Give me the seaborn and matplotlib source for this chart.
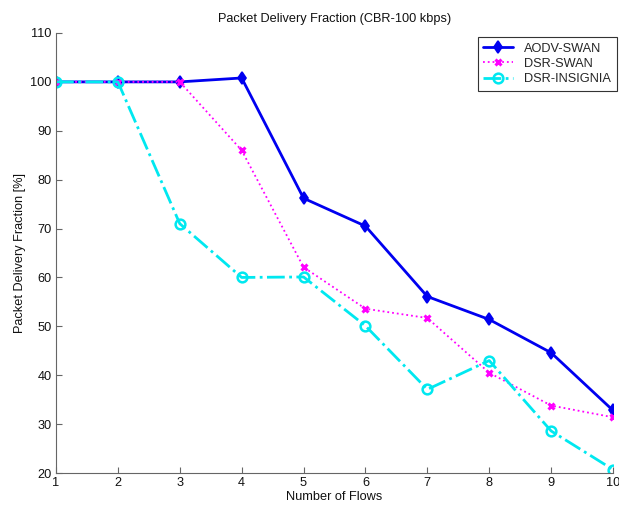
import matplotlib
matplotlib.use("Agg")
import matplotlib.pyplot as plt
import seaborn as sns
import pandas as pd

flows = [1, 2, 3, 4, 5, 6, 7, 8, 9, 10]
aodv_swan = [100, 100, 100, 100.8, 76.2, 70.5, 56.1, 51.4, 44.6, 32.8]
dsr_swan = [100, 100, 100, 86.0, 62.1, 53.6, 51.7, 40.5, 33.8, 31.4]
dsr_insignia = [100, 100, 71.0, 60.0, 60.1, 50.1, 37.1, 43.0, 28.6, 20.7]

series_names = ["AODV-SWAN", "DSR-SWAN", "DSR-INSIGNIA"]
x_ticks = [1, 2, 3, 4, 5, 6, 7, 8, 9, 10]
y_ticks = [20, 30, 40, 50, 60, 70, 80, 90, 100, 110]

df = pd.DataFrame({
    "flows": flows * 3,
    "pdf": aodv_swan + dsr_swan + dsr_insignia,
    "protocol": sum([[n] * len(flows) for n in series_names], []),
})

sns.set_theme(style="white")
plt.rcParams["font.family"] = ["Liberation Sans", "DejaVu Sans"]

FS = 9.2
W, H = 619, 508
fig = plt.figure(figsize=(W / 100, H / 100), dpi=100)
ax = fig.add_axes([56 / W, 1 - 473 / H, (613 - 56) / W, (473 - 33) / H])

styles = {
    "AODV-SWAN": dict(color="#0000f0", marker="d", ls="-", lw=2.0, ms=6, mew=1.2, mfc="#0000f0"),
    "DSR-SWAN": dict(color="#ff00ff", marker="x", ls=":", lw=1.3, ms=5, mew=2.2, mfc="#ff00ff"),
    "DSR-INSIGNIA": dict(color="#00e8f0", marker="o", ls="-.", lw=2.0, ms=7, mew=1.8, mfc="none"),
}

for name in series_names:
    st = styles[name]
    sub = df[df["protocol"] == name]
    sns.lineplot(data=sub, x="flows", y="pdf", ax=ax, label=name,
                 color=st["color"], marker=st["marker"], linestyle=st["ls"],
                 linewidth=st["lw"], markersize=st["ms"], markeredgewidth=st["mew"],
                 markerfacecolor=st["mfc"], markeredgecolor=st["color"])

ax.set_xlim(1, 10)
ax.set_ylim(20, 110)
ax.set_xticks(x_ticks)
ax.set_yticks(y_ticks)
ax.tick_params(direction="in", length=4, width=0.8, color="#666666",
               labelsize=FS, labelcolor="#111111", pad=3)
ax.tick_params(axis="x", bottom=True)
ax.tick_params(axis="y", left=True)

for side in ["top", "right"]:
    ax.spines[side].set_visible(False)
for side in ["left", "bottom"]:
    ax.spines[side].set_color("#666666")
    ax.spines[side].set_linewidth(0.8)

ax.set_title("Packet Delivery Fraction (CBR-100 kbps)", fontsize=FS, color="#111111", pad=8)
ax.set_xlabel("Number of Flows", fontsize=FS, color="#111111", labelpad=1)
ax.set_ylabel("Packet Delivery Fraction [%]", fontsize=FS, color="#111111", labelpad=3)

leg = ax.legend(loc="upper right", bbox_to_anchor=(617 / W, 1 - 37 / H),
                bbox_transform=fig.transFigure, fontsize=FS,
                frameon=True, fancybox=False, borderaxespad=0.0,
                handlelength=2.3, handletextpad=0.9, labelspacing=0.25, borderpad=0.45)
leg.get_frame().set_edgecolor("#333333")
leg.get_frame().set_linewidth(0.8)
leg.get_frame().set_alpha(1.0)

fig.savefig("out.png", dpi=100, facecolor="white")
